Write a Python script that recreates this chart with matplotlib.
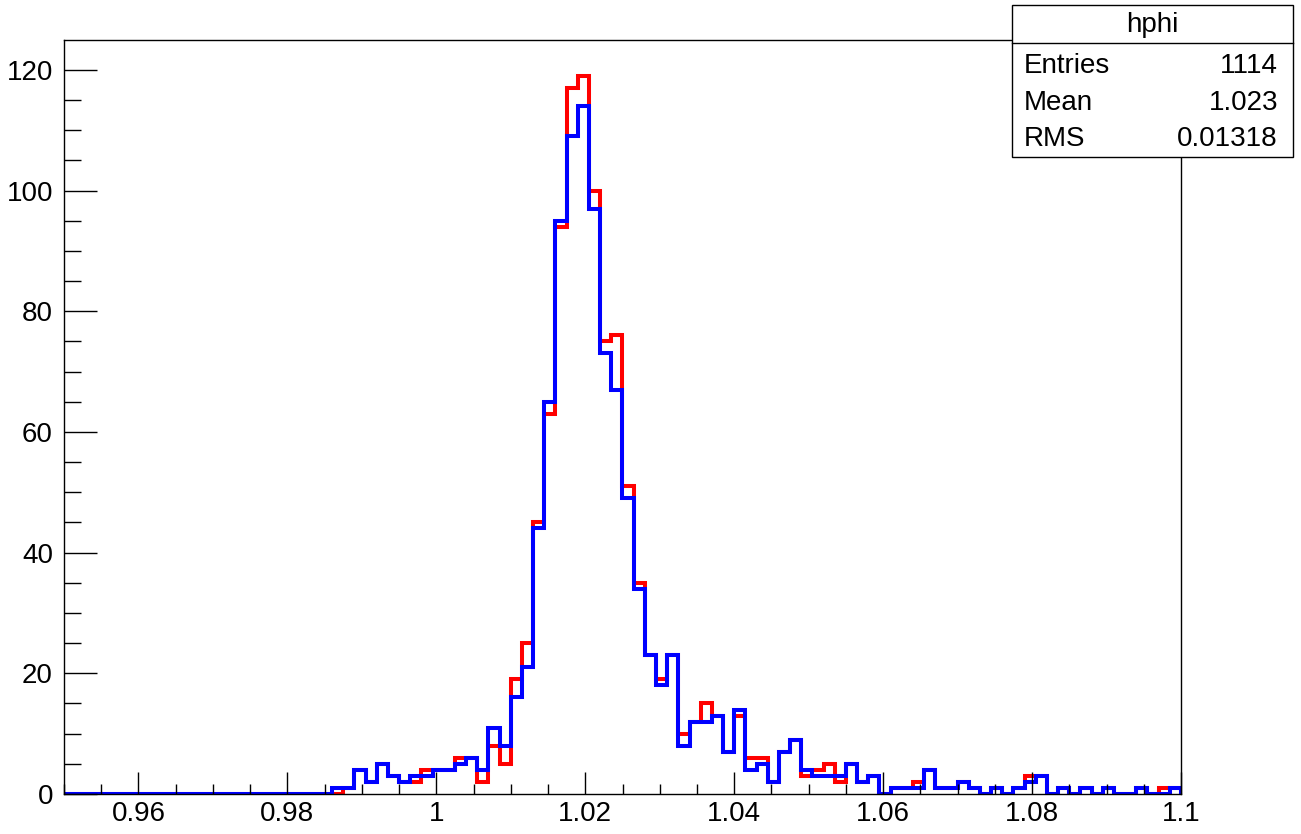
import numpy as np
import matplotlib.pyplot as plt
from matplotlib.patches import Rectangle
from matplotlib.ticker import MultipleLocator, FuncFormatter

# histogram hphi: 100 bins from 0.95 to 1.1
x_lo, x_hi, n_bins = 0.95, 1.1, 100

red_counts = [
    0, 0, 0, 0, 0, 0, 0, 0, 0, 0, 0, 0, 0, 0, 0, 0, 0, 0, 0, 0, 0, 0, 0, 0,
    0, 1, 4, 2, 5, 3, 2, 2, 4, 4, 4, 6, 6, 2, 8, 5,
    19, 25, 45, 63, 94, 117, 119, 100, 75, 76,
    51, 35, 23, 19, 23, 10, 12, 15, 13, 7,
    13, 6, 6, 2, 7, 9, 3, 4, 5, 2, 5, 2, 3,
    0, 1, 1, 2, 4, 1, 1, 2, 1, 0, 1, 0, 1, 3, 3, 0, 1, 0, 1, 0, 1, 0, 0, 1, 0, 1, 1,
]
blue_counts = [
    0, 0, 0, 0, 0, 0, 0, 0, 0, 0, 0, 0, 0, 0, 0, 0, 0, 0, 0, 0, 0, 0, 0, 0,
    1, 1, 4, 2, 5, 3, 2, 3, 3, 4, 4, 5, 6, 4, 11, 8,
    16, 21, 44, 65, 95, 109, 114, 97, 73, 67,
    49, 34, 23, 18, 23, 8, 12, 12, 13, 7,
    14, 4, 5, 2, 7, 9, 4, 3, 3, 3, 5, 2, 3,
    0, 1, 1, 1, 4, 1, 1, 2, 1, 0, 1, 0, 1, 2, 3, 0, 1, 0, 1, 0, 1, 0, 0, 1, 0, 0, 1,
]

stats_title = 'hphi'
stats_rows = [('Entries', '1114'), ('Mean', '1.023'), ('RMS', '0.01318')]

plt.rcParams['font.family'] = ['Liberation Sans', 'DejaVu Sans']
fs = 20

W, H = 1301, 834
fig = plt.figure(figsize=(W / 100, H / 100), dpi=100)
ax = fig.add_axes([64 / W, 1 - 794 / H, (1181 - 64) / W, (794 - 40) / H])

edges = np.linspace(x_lo, x_hi, n_bins + 1)
ax.stairs(red_counts, edges, color='#ff0000', lw=2.9, baseline=0)
ax.stairs(blue_counts, edges, color='#0000ff', lw=2.9, baseline=0)

ax.set_xlim(x_lo, x_hi)
ax.set_ylim(0, 1.05 * max(red_counts))

ax.xaxis.set_major_locator(MultipleLocator(0.02))
ax.xaxis.set_minor_locator(MultipleLocator(0.005))
ax.yaxis.set_major_locator(MultipleLocator(20))
ax.yaxis.set_minor_locator(MultipleLocator(5))
ax.xaxis.set_major_formatter(FuncFormatter(lambda v, p: '%g' % round(v, 4)))

ax.tick_params(axis='x', which='major', direction='in', length=16, width=1, labelsize=fs, pad=5)
ax.tick_params(axis='x', which='minor', direction='in', length=7.5, width=1)
ax.tick_params(axis='y', which='major', direction='in', length=24, width=1, labelsize=fs, pad=8)
ax.tick_params(axis='y', which='minor', direction='in', length=12, width=1)
for s in ax.spines.values():
    s.set_linewidth(1.0)

# stats box (figure pixel coords)
def fx(px):
    return px / W

def fy(py):
    return 1 - py / H

box = Rectangle((fx(1012), fy(157)), fx(1293) - fx(1012), fy(5) - fy(157),
                transform=fig.transFigure, facecolor='white', edgecolor='black', lw=1.0, zorder=5)
fig.patches.append(box)
sep = plt.Line2D([fx(1012), fx(1293)], [fy(43), fy(43)], transform=fig.transFigure, color='black', lw=1.0, zorder=6)
fig.lines.append(sep)
fig.text(fx(1152), fy(25), stats_title, ha='center', va='center', fontsize=fs, zorder=7)
for i, (lab, val) in enumerate(stats_rows):
    yy = fy(66 + i * 36.5)
    fig.text(fx(1024), yy, lab, ha='left', va='center', fontsize=fs, zorder=7)
    fig.text(fx(1278), yy, val, ha='right', va='center', fontsize=fs, zorder=7)

fig.savefig('out.png', dpi=100)
